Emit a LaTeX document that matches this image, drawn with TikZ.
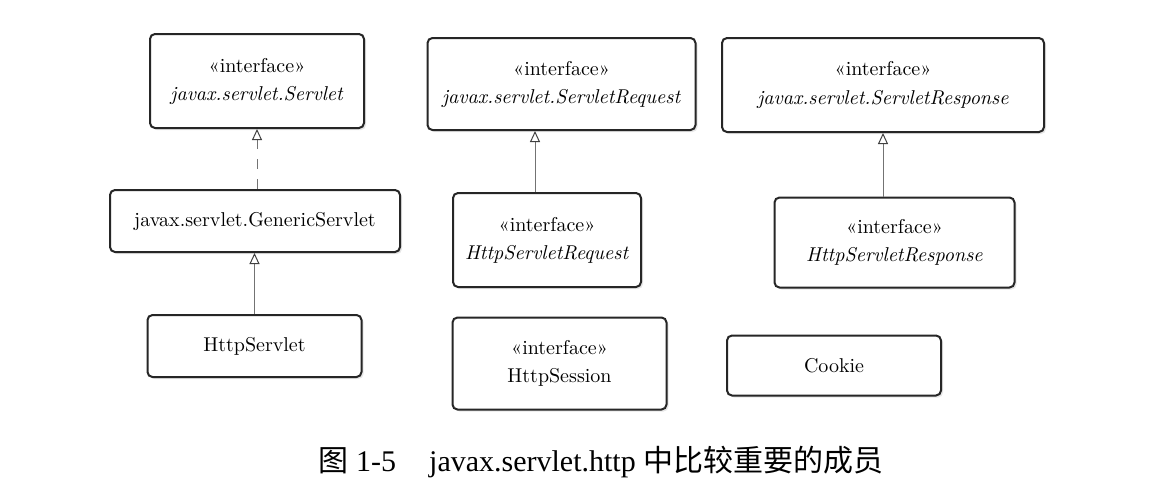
\documentclass[tikz,border=0pt]{standalone}
\usepackage{fontspec}
\usetikzlibrary{arrows.meta,shadows}
\newfontfamily\capfont{Liberation Serif}
\newfontfamily\cjk{Noto Sans CJK SC}

\tikzset{
  classbox/.style={draw=black!85, line width=1pt, rounded corners=2.5pt, fill=white,
    align=center, inner sep=2pt,
    drop shadow={opacity=0.2, shadow xshift=1pt, shadow yshift=-1pt}},
  realize/.style={draw=black!55, line width=0.5pt,
    -{Triangle[open, width=5pt, length=5.5pt, black!75]}},
}

\begin{document}
\begin{tikzpicture}[x=0.5pt, y=-0.5pt]
  \useasboundingbox (0,0) rectangle (1151,487);
  \node[classbox, minimum width=107pt, minimum height=47pt] (servlet) at (257,81) {«interface»\\[2pt] \textit{javax.servlet.Servlet}};
  \node[classbox, minimum width=134pt, minimum height=46pt] (sreq) at (561.5,84) {«interface»\\[2pt] \textit{javax.servlet.ServletRequest}};
  \node[classbox, minimum width=161pt, minimum height=47pt] (sresp) at (883,85) {«interface»\\[2pt] \textit{javax.servlet.ServletResponse}};
  \node[classbox, minimum width=145pt, minimum height=31pt] (generic) at (255,221) {javax.servlet.GenericServlet};
  \node[classbox, minimum width=107pt, minimum height=31pt] (httpservlet) at (254.5,346) {HttpServlet};
  \node[classbox, minimum width=94pt, minimum height=47pt] (hsreq) at (547,240) {«interface»\\[2pt] \textit{HttpServletRequest}};
  \node[classbox, minimum width=107pt, minimum height=46pt] (hsession) at (559.5,363.5) {«interface»\\[2pt] HttpSession};
  \node[classbox, minimum width=120pt, minimum height=45pt] (hsresp) at (894.5,242.5) {«interface»\\[2pt] \textit{HttpServletResponse}};
  \node[classbox, minimum width=107pt, minimum height=30pt] (cookie) at (834,365.5) {Cookie};
  \coordinate (reqline) at (535,0);
  \draw[realize, dashed, dash pattern=on 5pt off 5pt] (generic.north -| servlet.south) -- (servlet.south);
  \draw[realize] (httpservlet.north) -- (generic.south -| httpservlet.north);
  \draw[realize] (hsreq.north -| reqline) -- (sreq.south -| reqline);
  \draw[realize] (hsresp.north -| sresp.south) -- (sresp.south);
  \node[font=\capfont\fontsize{15}{18}\selectfont] (caption) at (601,462) {{\cjk 图} 1-5\hspace{1.1em}javax.servlet.http {\cjk 中比较重要的成员}};
\end{tikzpicture}
\end{document}
